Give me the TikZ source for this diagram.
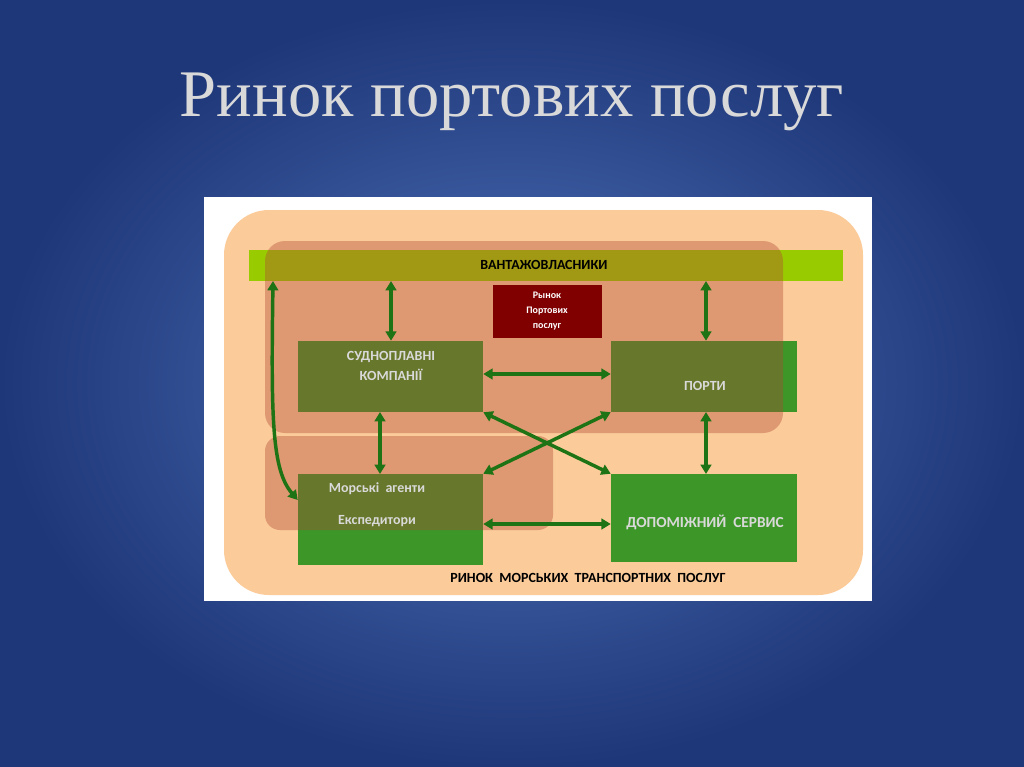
\documentclass[tikz,border=0pt]{standalone}
\usepackage{fontspec}
\setmainfont{Liberation Serif}
\newfontfamily\calfont{Carlito}
\usetikzlibrary{arrows.meta}
\definecolor{peach}{RGB}{251,203,154}
\definecolor{band}{RGB}{153,204,0}
\definecolor{gbox}{RGB}{60,150,40}
\definecolor{ovl}{RGB}{175,70,50}
\definecolor{arr}{RGB}{30,115,20}
\definecolor{dred}{RGB}{128,0,0}
\tikzset{
 lbl/.style={text=white!85!black,font=\calfont\bfseries\fontsize{10.5}{12}\selectfont,align=center},
 conn/.style={draw=arr,line width=2.6pt,{Triangle[length=7pt,width=8pt]}-{Triangle[length=7pt,width=8pt]}},
 ov/.style={fill=ovl,fill opacity=0.38,draw=none},
 bx/.style={inner sep=0,draw=none}
}
\begin{document}
\begin{tikzpicture}[x=0.0264cm,y=-0.0264cm]
\useasboundingbox (0,0) rectangle (1024,767);
\shade[inner color={rgb,255:red,80;green,115;blue,188},outer color={rgb,255:red,30;green,55;blue,120}] (0,0) rectangle (1024,767);
\node[text=white!85!black,font=\fontsize{50}{54}\selectfont] (title) at (512,102) {Ринок портових послуг};
\fill[white] (204,197) rectangle (872,601);
\fill[peach,rounded corners=1.188cm] (224,210) rectangle (863,595);
\fill[band] (249,250) rectangle (843,281);
\fill[gbox] (298,341) rectangle (483,412);
\fill[gbox] (611,341) rectangle (797,412);
\fill[gbox] (298,474) rectangle (483,565);
\fill[gbox] (611,474) rectangle (797,562);
\fill[ov,rounded corners=0.528cm] (265,241) rectangle (783,433);
\fill[ov,rounded corners=0.396cm] (265,436) rectangle (553,530);
\fill[dred] (493,285) rectangle (602,338);
\coordinate (bandL) at (273,281);
\coordinate (b1) at (391,281);
\coordinate (b2) at (706,281);
\node[bx,minimum width=4.884cm,minimum height=1.874cm] (sud) at (390.5,376.5) {};
\node[bx,minimum width=4.910cm,minimum height=1.874cm] (port) at (704,376.5) {};
\node[bx,minimum width=4.884cm,minimum height=2.402cm] (mor) at (390.5,519.5) {};
\node[bx,minimum width=4.910cm,minimum height=2.323cm] (dop) at (704,518) {};
\node[font=\calfont\bfseries\fontsize{10.5}{12}\selectfont] (vl) at (544,265) {ВАНТАЖОВЛАСНИКИ};
\node[text=white,font=\calfont\bfseries\fontsize{7.5}{11.5}\selectfont,align=center] (rp) at (547,311) {Рынок\\Портових\\послуг};
\node[lbl,font=\calfont\bfseries\fontsize{10.5}{15}\selectfont] (t1) at (391,366) {СУДНОПЛАВНІ\\КОМПАНІЇ};
\node[lbl] (t2) at (705,386) {ПОРТИ};
\node[lbl,font=\calfont\bfseries\fontsize{10.5}{24}\selectfont] (t3) at (377,505) {Морські\ \ агенти\\Експедитори};
\node[lbl,font=\calfont\bfseries\fontsize{11.5}{13}\selectfont] (t4) at (705,522) {ДОПОМІЖНИЙ\ \ СЕРВИС};
\node[font=\calfont\bfseries\fontsize{10.5}{12}\selectfont] (rm) at (588,578) {РИНОК\ \ МОРСЬКИХ\ \ ТРАНСПОРТНИХ\ \ ПОСЛУГ};
\draw[conn] (b1) -- (sud.north -| b1);
\draw[conn] (b2) -- (port.north -| b2);
\draw[conn] (sud.east |- 0,374) -- (port.west |- 0,374);
\draw[conn] (380,412) -- (380,474);
\draw[conn] (706,412) -- (706,474);
\draw[conn] (sud.south east) -- (dop.north west);
\draw[conn] (port.south west) -- (mor.north east);
\draw[conn] (mor.east |- 0,524) -- (dop.west |- 0,524);
\draw[conn] (bandL) .. controls (271,420) and (272,470) .. (mor.west |- 0,500);
\end{tikzpicture}
\end{document}
